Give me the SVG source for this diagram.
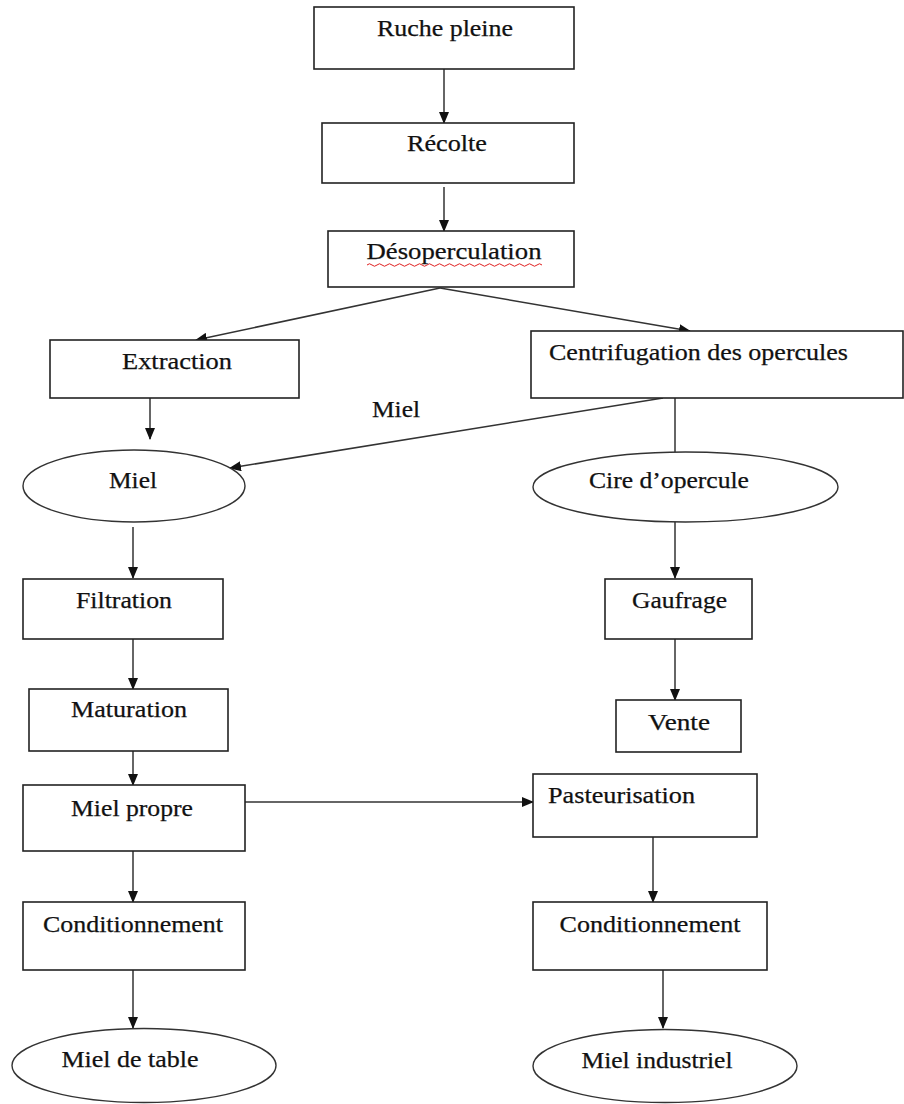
<svg xmlns="http://www.w3.org/2000/svg" width="904" height="1104" viewBox="0 0 904 1104">
<defs>
<marker id="ah" markerUnits="userSpaceOnUse" markerWidth="12" markerHeight="10" refX="11" refY="5" orient="auto">
<path d="M0,0 L12,5 L0,10 z" fill="#111"/>
</marker>
<style>
.box{fill:#fff;stroke:#222;stroke-width:1.6}
.ell{fill:#fff;stroke:#333;stroke-width:1.4}
.t{font-family:"Liberation Serif","Times New Roman",serif;font-size:24px;fill:#111;stroke:#111;stroke-width:0.25}
.c{text-anchor:middle}
.con{stroke:#333;stroke-width:1.5;fill:none}
.arr{marker-end:url(#ah)}
</style>
</defs>
<rect width="904" height="1104" fill="#fff"/>
<g id="connectors">
<line class="con arr" x1="444" y1="69" x2="444" y2="123"/>
<line class="con arr" x1="444" y1="187" x2="444" y2="231"/>
<line class="con arr" x1="440" y1="288" x2="196" y2="340"/>
<line class="con arr" x1="440" y1="288" x2="690" y2="331"/>
<line class="con arr" x1="150" y1="397" x2="150" y2="439"/>
<line class="con arr" x1="663" y1="398" x2="230" y2="468"/>
<line class="con" x1="675" y1="398" x2="675" y2="452"/>
<line class="con arr" x1="133" y1="527" x2="133" y2="578"/>
<line class="con arr" x1="675" y1="522" x2="675" y2="578"/>
<line class="con arr" x1="133" y1="639" x2="133" y2="689"/>
<line class="con arr" x1="675" y1="639" x2="675" y2="700"/>
<line class="con arr" x1="133" y1="751" x2="133" y2="785"/>
<line class="con arr" x1="245" y1="802" x2="533" y2="802"/>
<line class="con arr" x1="133" y1="839" x2="133" y2="902"/>
<line class="con arr" x1="653" y1="837" x2="653" y2="902"/>
<line class="con arr" x1="133" y1="970" x2="133" y2="1028"/>
<line class="con arr" x1="663" y1="970" x2="663" y2="1028"/>
</g>
<g id="n-ruche"><rect class="box" x="314" y="7" width="260" height="62"/><text class="t c" x="445" y="36" textLength="136" lengthAdjust="spacingAndGlyphs">Ruche pleine</text></g>
<g id="n-recolte"><rect class="box" x="322" y="123" width="252" height="60"/><text class="t c" x="447" y="151" textLength="80" lengthAdjust="spacingAndGlyphs">Récolte</text></g>
<g id="n-desoperculation"><rect class="box" x="328" y="231" width="246" height="56"/><text class="t c" x="454" y="259" textLength="175" lengthAdjust="spacingAndGlyphs">Désoperculation</text>
<path d="M367,265 q2.5,-2.5 5,0 t5,0 t5,0 t5,0 t5,0 t5,0 t5,0 t5,0 t5,0 t5,0 t5,0 t5,0 t5,0 t5,0 t5,0 t5,0 t5,0 t5,0 t5,0 t5,0 t5,0 t5,0 t5,0 t5,0 t5,0 t5,0 t5,0 t5,0 t5,0 t5,0 t5,0 t5,0 t5,0 t5,0 t5,0" fill="none" stroke="#e02020" stroke-width="1"/></g>
<g id="n-extraction"><rect class="box" x="50" y="340" width="249" height="58"/><text class="t c" x="177" y="369" textLength="110" lengthAdjust="spacingAndGlyphs">Extraction</text></g>
<g id="n-centrifugation"><rect class="box" x="531" y="331" width="372" height="67"/><text class="t" x="549" y="360" textLength="299" lengthAdjust="spacingAndGlyphs">Centrifugation des opercules</text></g>
<g id="label-miel"><text class="t c" x="396" y="417" textLength="48" lengthAdjust="spacingAndGlyphs">Miel</text></g>
<g id="n-miel"><ellipse class="ell" cx="134" cy="486" rx="111" ry="36"/><text class="t c" x="133" y="488" textLength="48" lengthAdjust="spacingAndGlyphs">Miel</text></g>
<g id="n-cire"><ellipse class="ell" cx="685.5" cy="487" rx="152.5" ry="35"/><text class="t c" x="669" y="488" textLength="160" lengthAdjust="spacingAndGlyphs">Cire d’opercule</text></g>
<g id="n-filtration"><rect class="box" x="23" y="579" width="200" height="60"/><text class="t c" x="124" y="608" textLength="96" lengthAdjust="spacingAndGlyphs">Filtration</text></g>
<g id="n-gaufrage"><rect class="box" x="605" y="579" width="147" height="60"/><text class="t" x="632" y="608" textLength="95" lengthAdjust="spacingAndGlyphs">Gaufrage</text></g>
<g id="n-maturation"><rect class="box" x="29" y="689" width="199" height="62"/><text class="t c" x="129" y="717" textLength="116" lengthAdjust="spacingAndGlyphs">Maturation</text></g>
<g id="n-vente"><rect class="box" x="616" y="700" width="125" height="52"/><text class="t c" x="679" y="730" textLength="62" lengthAdjust="spacingAndGlyphs">Vente</text></g>
<g id="n-miel-propre"><rect class="box" x="23" y="785" width="222" height="66"/><text class="t c" x="132" y="816" textLength="122" lengthAdjust="spacingAndGlyphs">Miel propre</text></g>
<g id="n-pasteurisation"><rect class="box" x="533" y="774" width="224" height="63"/><text class="t" x="548" y="803" textLength="147" lengthAdjust="spacingAndGlyphs">Pasteurisation</text></g>
<g id="n-cond-l"><rect class="box" x="23" y="902" width="222" height="68"/><text class="t c" x="133" y="932" textLength="180" lengthAdjust="spacingAndGlyphs">Conditionnement</text></g>
<g id="n-cond-r"><rect class="box" x="533" y="902" width="234" height="68"/><text class="t c" x="650" y="932" textLength="181" lengthAdjust="spacingAndGlyphs">Conditionnement</text></g>
<g id="n-miel-table"><ellipse class="ell" cx="144" cy="1065.5" rx="132" ry="37"/><text class="t c" x="130" y="1067" textLength="137" lengthAdjust="spacingAndGlyphs">Miel de table</text></g>
<g id="n-miel-industriel"><ellipse class="ell" cx="665" cy="1066" rx="132" ry="36.5"/><text class="t c" x="657" y="1068" textLength="151" lengthAdjust="spacingAndGlyphs">Miel industriel</text></g>
</svg>
